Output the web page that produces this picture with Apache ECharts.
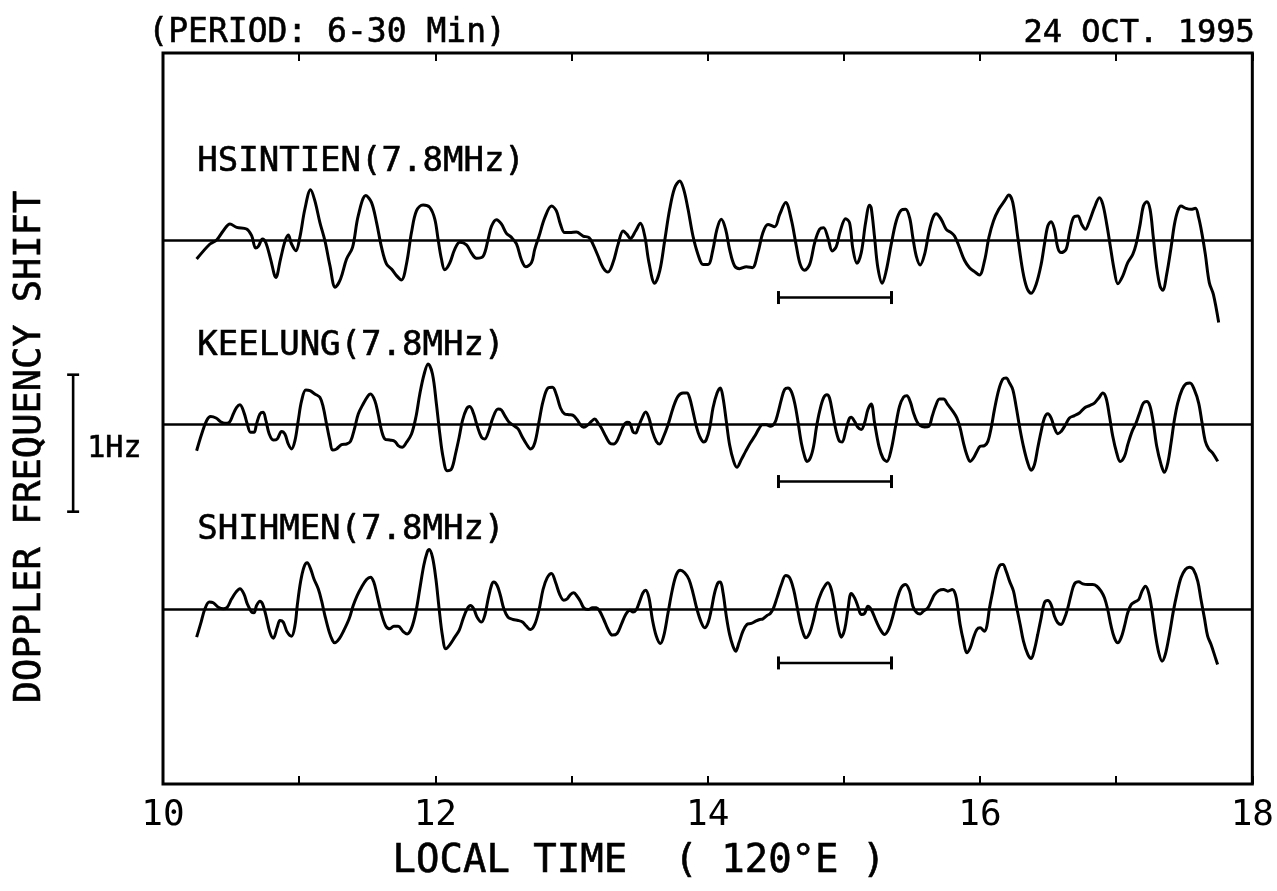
<!DOCTYPE html>
<html><head><meta charset="utf-8">
<script src="https://cdn.jsdelivr.net/npm/echarts@6/dist/echarts.min.js"></script>
<style>html,body{margin:0;padding:0;background:#fff}#c{width:1277px;height:891px}</style>
</head><body><div id="c"></div>
<script>
// ---------------- data ----------------
const xTickLabels = [10, 12, 14, 16, 18];          // local time (h), labelled ticks
const stationNames = ['HSINTIEN(7.8MHz)', 'KEELUNG(7.8MHz)', 'SHIHMEN(7.8MHz)'];
// [local time (h), Doppler frequency shift (Hz)]
const hsintien = [
[10.247,-0.139],[10.345,-0.029],[10.394,0],[10.443,0.068],[10.492,0.117],[10.541,0.092],[10.614,0.080],[10.651,0.032],[10.680,-0.058],[10.700,-0.046],[10.731,0.007],[10.756,-0.022],[10.790,-0.139],[10.829,-0.273],[10.863,-0.139],[10.895,-0.012],[10.920,0.036],[10.944,-0.029],[10.976,-0.078],[11.005,0.019],[11.042,0.226],[11.084,0.367],[11.115,0.287],[11.152,0.129],[11.189,-0.005],[11.226,-0.187],[11.265,-0.345],[11.304,-0.285],[11.348,-0.139],[11.392,-0.054],[11.434,0.178],[11.490,0.324],[11.531,0.275],[11.568,0.129],[11.605,-0.054],[11.641,-0.175],[11.678,-0.212],[11.715,-0.260],[11.751,-0.292],[11.788,-0.175],[11.825,0.056],[11.862,0.214],[11.910,0.255],[11.959,0.238],[11.996,0.153],[12.020,0.007],[12.045,-0.139],[12.069,-0.217],[12.106,-0.168],[12.143,-0.066],[12.180,-0.017],[12.229,-0.036],[12.265,-0.095],[12.302,-0.134],[12.351,-0.119],[12.388,0.007],[12.412,0.100],[12.449,0.148],[12.485,0.117],[12.522,0.049],[12.559,0.019],[12.596,-0.029],[12.632,-0.144],[12.664,-0.195],
[12.706,-0.165],[12.730,-0.068],[12.762,0.029],[12.804,0.163],[12.853,0.248],[12.889,0.212],[12.919,0.114],[12.950,0.054],[12.987,0.054],[13.036,0.058],[13.085,0.029],[13.129,0.017],[13.158,-0.032],[13.195,-0.117],[13.232,-0.202],[13.268,-0.234],[13.305,-0.165],[13.342,-0.032],[13.379,0.066],[13.408,0.041],[13.432,0.010],[13.471,0.066],[13.506,0.122],[13.538,0.029],[13.569,-0.165],[13.611,-0.316],[13.648,-0.226],[13.684,-0.007],[13.721,0.224],[13.758,0.382],[13.795,0.431],[13.824,0.370],[13.856,0.224],[13.892,0.029],[13.929,-0.105],[13.966,-0.178],[14.003,-0.178],[14.039,-0.068],[14.068,0.078],[14.100,0.151],[14.132,0.078],[14.161,-0.068],[14.198,-0.190],[14.235,-0.209],[14.284,-0.195],[14.328,-0.202],[14.369,-0.092],[14.406,0.054],[14.443,0.114],[14.492,0.097],[14.529,0.187],[14.573,0.273],[14.614,0.151],[14.651,-0.044],[14.680,-0.178],[14.712,-0.221],[14.749,-0.178],[14.786,-0.019],[14.822,0.078],[14.851,0.090],[14.883,0.017],[14.915,-0.080],[14.944,-0.049],[14.974,0.066],[15.013,0.156],[15.042,0.126],[15.067,-0.068],[15.096,-0.170],[15.128,-0.092],[15.160,0.127],[15.189,0.253],
[15.201,0.236],[15.226,0.017],[15.250,-0.202],[15.282,-0.316],[15.311,-0.226],[15.348,-0.032],[15.385,0.139],[15.421,0.217],[15.453,0.224],[15.483,0.163],[15.507,0.017],[15.532,-0.117],[15.561,-0.182],[15.593,-0.105],[15.624,0.054],[15.654,0.163],[15.678,0.192],[15.715,0.151],[15.752,0.078],[15.788,0.054],[15.813,0.029],[15.845,-0.044],[15.886,-0.148],[15.923,-0.202],[15.960,-0.231],[15.996,-0.255],[16.033,-0.153],[16.065,0.017],[16.099,0.139],[16.138,0.224],[16.180,0.285],[16.212,0.328],[16.241,0.273],[16.278,0.017],[16.314,-0.226],[16.344,-0.348],[16.376,-0.389],[16.412,-0.324],[16.449,-0.178],[16.473,-0.032],[16.498,0.102],[16.522,0.134],[16.547,0.078],[16.571,-0.056],[16.596,-0.092],[16.632,-0.068],[16.657,0.054],[16.686,0.163],[16.718,0.175],[16.747,0.114],[16.774,0.078],[16.804,0.139],[16.840,0.236],[16.877,0.309],[16.902,0.260],[16.931,0.114],[16.955,-0.032],[16.987,-0.226],[17.012,-0.319],[17.048,-0.263],[17.085,-0.165],[17.122,-0.105],[17.146,-0.032],[17.176,0.114],[17.200,0.248],[17.225,0.280],[17.249,0.224],[17.273,0.017],[17.298,-0.202],[17.322,-0.336],[17.342,-0.367],[17.371,-0.251],[17.403,-0.056],[17.428,0.114],[17.452,0.212],[17.476,0.248],[17.513,0.231],[17.550,0.224],[17.582,0.231],[17.606,0.163],[17.631,0.041],[17.655,-0.105],[17.684,-0.311],[17.714,-0.397],[17.753,-0.603]
];
const keelung = [
[10.247,-0.195],[10.284,-0.073],[10.320,0.024],[10.350,0.054],[10.389,0.044],[10.423,0.017],[10.455,0.005],[10.487,0.012],[10.516,0.073],[10.541,0.122],[10.565,0.141],[10.594,0.085],[10.619,0],[10.643,-0.061],[10.668,-0.061],[10.687,0],[10.712,0.073],[10.736,0.085],[10.756,0.024],[10.780,-0.073],[10.810,-0.117],[10.839,-0.109],[10.871,-0.054],[10.895,-0.073],[10.920,-0.146],[10.944,-0.182],[10.969,-0.122],[10.993,0.024],[11.018,0.170],[11.049,0.248],[11.079,0.243],[11.115,0.219],[11.152,0.195],[11.177,0.122],[11.201,0],[11.226,-0.122],[11.245,-0.190],[11.274,-0.182],[11.311,-0.151],[11.348,-0.146],[11.377,-0.127],[11.409,-0.024],[11.434,0.073],[11.470,0.146],[11.507,0.207],[11.524,0.219],[11.556,0.170],[11.580,0.073],[11.605,-0.049],[11.629,-0.109],[11.666,-0.117],[11.703,-0.127],[11.727,-0.158],[11.756,-0.170],[11.788,-0.134],[11.825,-0.073],[11.857,0.049],[11.886,0.219],[11.918,0.365],[11.947,0.438],[11.979,0.365],[12.008,0.146],[12.033,-0.073],[12.057,-0.243],[12.087,-0.341],[12.119,-0.328],[12.148,-0.219],[12.175,-0.097],[12.199,0.024],[12.229,0.109],[12.253,0.127],[12.282,0.073],[12.307,-0.012],[12.339,-0.097],[12.363,-0.109],[12.393,-0.049],[12.424,0.049],[12.461,0.109],[12.485,0.102],[12.510,0.061],[12.542,0.012],[12.576,-0.012],[12.608,-0.036],[12.640,-0.097],[12.669,-0.146],[12.699,-0.182],
[12.730,-0.139],[12.762,0.019],[12.791,0.165],[12.828,0.263],[12.860,0.268],[12.889,0.214],[12.919,0.117],[12.950,0.073],[12.982,0.068],[13.012,0.063],[13.041,0.032],[13.065,-0.005],[13.090,-0.024],[13.122,-0.005],[13.146,0.019],[13.171,0.036],[13.195,0.007],[13.220,-0.029],[13.251,-0.090],[13.281,-0.139],[13.310,-0.146],[13.335,-0.122],[13.359,-0.066],[13.384,-0.010],[13.408,0.012],[13.428,0.007],[13.452,-0.058],[13.472,-0.066],[13.489,-0.029],[13.513,0.032],[13.545,0.088],[13.569,0.044],[13.594,-0.054],[13.623,-0.127],[13.648,-0.146],[13.672,-0.102],[13.709,-0.005],[13.746,0.117],[13.782,0.202],[13.819,0.226],[13.848,0.226],[13.868,0.190],[13.892,0.092],[13.917,-0.017],[13.941,-0.090],[13.971,-0.131],[13.990,-0.114],[14.015,-0.029],[14.039,0.117],[14.069,0.226],[14.093,0.263],[14.113,0.190],[14.137,0.019],[14.161,-0.151],[14.191,-0.273],[14.215,-0.316],[14.247,-0.260],[14.279,-0.200],[14.313,-0.139],[14.345,-0.090],[14.377,-0.034],[14.401,-0.005],[14.431,-0.005],[14.460,-0.017],[14.492,0.007],[14.516,0.080],[14.541,0.178],[14.565,0.251],[14.590,0.263],[14.614,0.238],[14.639,0.153],[14.663,0.019],[14.688,-0.139],[14.712,-0.236],[14.729,-0.273],[14.754,-0.248],[14.778,-0.163],[14.798,-0.029],[14.822,0.092],[14.851,0.190],[14.876,0.214],[14.895,0.190],[14.920,0.068],[14.944,-0.054],[14.969,-0.127],[14.988,-0.131],[15.013,-0.054],[15.037,0.032],[15.054,0.049],[15.079,0.019],[15.103,-0.024],[15.128,-0.041],[15.152,0.007],[15.177,0.105],[15.201,0.146],
[15.226,0.007],[15.258,-0.163],[15.287,-0.248],[15.316,-0.273],[15.348,-0.187],[15.380,-0.017],[15.409,0.129],[15.439,0.197],[15.463,0.207],[15.487,0.165],[15.512,0.080],[15.536,0.019],[15.561,-0.012],[15.593,-0.022],[15.624,-0.017],[15.649,0.056],[15.673,0.129],[15.703,0.182],[15.732,0.182],[15.764,0.141],[15.801,0.092],[15.830,0.044],[15.854,-0.029],[15.879,-0.139],[15.903,-0.224],[15.928,-0.273],[15.952,-0.248],[15.977,-0.200],[16.001,-0.163],[16.033,-0.158],[16.058,-0.127],[16.082,-0.029],[16.106,0.105],[16.138,0.251],[16.168,0.328],[16.192,0.336],[16.217,0.299],[16.241,0.251],[16.265,0.129],[16.290,-0.017],[16.319,-0.163],[16.351,-0.285],[16.376,-0.338],[16.400,-0.297],[16.424,-0.175],[16.449,-0.054],[16.473,0.044],[16.498,0.075],[16.522,0.044],[16.547,-0.029],[16.571,-0.071],[16.596,-0.054],[16.628,-0.005],[16.657,0.044],[16.694,0.061],[16.730,0.080],[16.767,0.117],[16.804,0.134],[16.840,0.153],[16.872,0.190],[16.902,0.226],[16.926,0.190],[16.951,0.056],[16.975,-0.090],[17.004,-0.212],[17.029,-0.273],[17.061,-0.236],[17.085,-0.151],[17.117,-0.054],[17.146,0.007],[17.176,0.092],[17.200,0.153],[17.225,0.165],[17.249,0.129],[17.273,0.007],[17.298,-0.163],[17.330,-0.297],[17.354,-0.353],[17.379,-0.285],[17.403,-0.139],[17.428,0.032],[17.452,0.153],[17.484,0.251],[17.513,0.294],[17.542,0.299],[17.574,0.251],[17.606,0.153],[17.631,0.007],[17.655,-0.127],[17.680,-0.182],[17.709,-0.212],[17.746,-0.273]
];
const shihmen = [
[10.247,-0.202],[10.276,-0.105],[10.308,0.005],[10.340,0.054],[10.369,0.049],[10.406,0.017],[10.443,0.005],[10.472,0.017],[10.504,0.078],[10.536,0.127],[10.565,0.151],[10.594,0.114],[10.619,0.041],[10.651,-0.019],[10.668,-0.024],[10.687,0.029],[10.712,0.061],[10.731,0.041],[10.756,-0.044],[10.785,-0.165],[10.810,-0.209],[10.839,-0.129],[10.859,-0.080],[10.883,-0.092],[10.912,-0.165],[10.944,-0.195],[10.969,-0.117],[10.986,0.029],[11.010,0.200],[11.035,0.309],[11.059,0.341],[11.084,0.297],[11.108,0.224],[11.140,0.151],[11.164,0.066],[11.189,-0.044],[11.221,-0.165],[11.245,-0.226],[11.262,-0.243],[11.294,-0.214],[11.328,-0.153],[11.367,-0.068],[11.397,0.029],[11.426,0.102],[11.458,0.163],[11.495,0.219],[11.524,0.236],[11.548,0.200],[11.573,0.102],[11.605,-0.032],[11.637,-0.122],[11.666,-0.141],[11.695,-0.122],[11.727,-0.122],[11.764,-0.161],[11.793,-0.178],[11.825,-0.136],[11.857,-0.019],[11.886,0.151],[11.915,0.321],[11.940,0.418],[11.955,0.438],[11.979,0.382],[12.004,0.224],[12.028,0.005],[12.052,-0.190],[12.077,-0.287],[12.106,-0.258],[12.143,-0.202],[12.175,-0.153],[12.204,-0.068],[12.234,0.005],[12.258,0.029],[12.282,0.005],[12.307,-0.056],[12.339,-0.092],[12.363,-0.044],[12.388,0.078],[12.412,0.175],[12.429,0.200],[12.454,0.175],[12.478,0.102],[12.503,0.005],[12.534,-0.056],[12.571,-0.073],[12.608,-0.080],[12.640,-0.092],[12.669,-0.122],[12.698,-0.146],
[12.730,-0.109],[12.762,0],[12.791,0.146],[12.821,0.231],[12.853,0.263],[12.884,0.195],[12.914,0.109],[12.943,0.068],[12.968,0.078],[12.992,0.109],[13.017,0.122],[13.041,0.097],[13.065,0.061],[13.090,0.012],[13.122,0],[13.154,0.012],[13.183,0.012],[13.207,-0.012],[13.237,-0.073],[13.269,-0.146],[13.300,-0.187],[13.335,-0.175],[13.366,-0.109],[13.398,-0.036],[13.428,-0.005],[13.452,-0.019],[13.477,0],[13.501,0.061],[13.525,0.122],[13.545,0.141],[13.569,0.085],[13.594,-0.073],[13.623,-0.195],[13.653,-0.248],[13.677,-0.195],[13.709,-0.024],[13.741,0.146],[13.770,0.255],[13.799,0.287],[13.831,0.268],[13.863,0.219],[13.892,0.122],[13.922,0],[13.954,-0.097],[13.978,-0.134],[14.003,-0.097],[14.027,0],[14.051,0.122],[14.076,0.195],[14.093,0.200],[14.113,0.122],[14.137,-0.049],[14.161,-0.182],[14.186,-0.268],[14.206,-0.304],[14.230,-0.243],[14.259,-0.158],[14.289,-0.109],[14.320,-0.102],[14.352,-0.085],[14.382,-0.073],[14.406,-0.068],[14.436,-0.044],[14.460,-0.029],[14.484,0.012],[14.509,0.085],[14.541,0.182],[14.573,0.248],[14.602,0.231],[14.631,0.146],[14.656,0.024],[14.680,-0.097],[14.705,-0.182],[14.719,-0.207],[14.749,-0.170],[14.778,-0.073],[14.803,0.036],[14.834,0.122],[14.859,0.170],[14.883,0.195],[14.908,0.146],[14.932,0.024],[14.957,-0.122],[14.981,-0.202],[15.006,-0.146],[15.030,0],[15.054,0.117],[15.079,0.085],[15.103,0.024],[15.128,-0.036],[15.152,-0.029],[15.177,0.024],
[15.201,0],[15.238,-0.085],[15.275,-0.158],[15.299,-0.182],[15.331,-0.139],[15.360,-0.049],[15.390,0.073],[15.421,0.158],[15.453,0.182],[15.483,0.134],[15.507,0.024],[15.536,-0.024],[15.561,-0.032],[15.585,-0.012],[15.617,0.012],[15.642,0.061],[15.666,0.109],[15.698,0.139],[15.732,0.146],[15.764,0.134],[15.796,0.146],[15.820,0.109],[15.837,0.012],[15.854,-0.109],[15.879,-0.231],[15.903,-0.316],[15.928,-0.280],[15.952,-0.207],[15.977,-0.146],[16.001,-0.134],[16.033,-0.158],[16.050,-0.122],[16.070,0.012],[16.094,0.134],[16.119,0.255],[16.148,0.324],[16.168,0.328],[16.192,0.280],[16.217,0.207],[16.246,0.134],[16.265,0.036],[16.295,-0.109],[16.319,-0.231],[16.351,-0.328],[16.376,-0.358],[16.400,-0.292],[16.424,-0.182],[16.449,-0.061],[16.473,0.049],[16.498,0.066],[16.522,0.036],[16.547,-0.049],[16.571,-0.097],[16.596,-0.109],[16.620,-0.066],[16.645,0.012],[16.669,0.109],[16.694,0.187],[16.725,0.202],[16.755,0.187],[16.791,0.182],[16.828,0.182],[16.858,0.170],[16.889,0.134],[16.914,0.085],[16.938,0],[16.963,-0.122],[16.987,-0.207],[17.012,-0.243],[17.036,-0.207],[17.061,-0.122],[17.085,-0.024],[17.110,0.036],[17.139,0.056],[17.166,0.073],[17.190,0.134],[17.215,0.170],[17.239,0.122],[17.264,-0.012],[17.288,-0.182],[17.313,-0.316],[17.337,-0.377],[17.361,-0.328],[17.391,-0.182],[17.420,-0.012],[17.445,0.109],[17.476,0.231],[17.508,0.292],[17.538,0.309],[17.567,0.292],[17.599,0.207],[17.623,0.073],[17.648,-0.061],[17.672,-0.195],[17.697,-0.255],[17.733,-0.365],[17.745,-0.401]
];
const periodBar = [14.52, 15.35];   // time span marked under each trace (h)
const scaleBarHz = [0.36, -0.64];   // 1 Hz reference bar (Hz)

// ---------------- layout ----------------
const FONT = '"DejaVu Sans Mono", monospace';
const G = { left: 163, top: 53, width: 1090, height: 731 };
const PX_PER_HZ = 137;
const baselinesPx = [240, 424, 609.5];
const barOffsetHz = [-0.42, -0.42, -0.39];
const scaleBarTime = 9.34;

const yAxes = baselinesPx.map(b => ({
  type: 'value', show: false, gridIndex: 0,
  max: (b - G.top) / PX_PER_HZ,
  min: -(G.top + G.height - b) / PX_PER_HZ
}));

const traces = [hsintien, keelung, shihmen];
const series = [];
traces.forEach((d, i) => {
  series.push({
    type: 'line', xAxisIndex: 0, yAxisIndex: i, data: d,
    showSymbol: false, smooth: 0.35, silent: true,
    lineStyle: { color: '#000', width: 3 },
    markLine: {
      silent: true, symbol: ['none', 'none'], label: { show: false },
      lineStyle: { color: '#000', width: 2.6, type: 'solid' },
      data: [{ yAxis: 0 }]
    }
  });
  series.push({
    type: 'line', xAxisIndex: 0, yAxisIndex: i,
    data: [[periodBar[0], barOffsetHz[i]], [periodBar[1], barOffsetHz[i]]],
    symbol: 'rect', symbolSize: [3, 13], showSymbol: true, silent: true,
    itemStyle: { color: '#000' }, lineStyle: { color: '#000', width: 2.4 }
  });
});

const xCommon = {
  type: 'value', min: 10, max: 18, interval: 1, gridIndex: 0,
  axisLine: { show: false, onZero: false }, splitLine: { show: false },
  axisTick: { show: true, inside: true, length: 8, lineStyle: { color: '#000', width: 2 } }
};

const W = '500 ';
const option = {
  animation: false,
  backgroundColor: '#fff',
  grid: { left: G.left, top: G.top, width: G.width, height: G.height,
          show: true, borderColor: '#000', borderWidth: 3, backgroundColor: 'transparent' },
  xAxis: [
    Object.assign({}, xCommon, {
      position: 'bottom',
      axisLabel: { show: true, margin: 14, color: '#000', fontFamily: FONT, fontSize: 36,
        formatter: v => xTickLabels.includes(v) ? String(v) : '' }
    }),
    Object.assign({}, xCommon, { position: 'top', axisLabel: { show: false } })
  ],
  yAxis: yAxes,
  series: series,
  graphic: [
    { id: 't1', type: 'text', left: 148, top: 17, style: { text: '(PERIOD: 6-30 Min)', font: W + '33px ' + FONT, fill: '#000', stroke: '#000', lineWidth: 0.6 } },
    { id: 't2', type: 'text', right: 22, top: 17, style: { text: '24 OCT. 1995', font: W + '32px ' + FONT, fill: '#000', stroke: '#000', lineWidth: 0.6 } },
    { id: 's1', type: 'text', left: 197, top: 145, style: { text: stationNames[0], font: W + '34px ' + FONT, fill: '#000', stroke: '#000', lineWidth: 0.6 } },
    { id: 's2', type: 'text', left: 197, top: 329, style: { text: stationNames[1], font: W + '34px ' + FONT, fill: '#000', stroke: '#000', lineWidth: 0.6 } },
    { id: 's3', type: 'text', left: 197, top: 513, style: { text: stationNames[2], font: W + '34px ' + FONT, fill: '#000', stroke: '#000', lineWidth: 0.6 } },
    { id: 'hz', type: 'text', left: 87, top: 434, style: { text: '1Hz', font: W + '30px ' + FONT, fill: '#000', stroke: '#000', lineWidth: 0.6 } },
    { id: 'xn', type: 'text', x: 639, y: 862, style: { text: 'LOCAL TIME  ( 120°E )', font: W + '39px ' + FONT, fill: '#000', stroke: '#000', lineWidth: 0.6, align: 'center', verticalAlign: 'middle' } },
    { id: 'yn', type: 'text', x: 30, y: 447, rotation: Math.PI / 2, style: { text: 'DOPPLER FREQUENCY SHIFT', font: W + '37px ' + FONT, fill: '#000', stroke: '#000', lineWidth: 0.6, align: 'center', verticalAlign: 'middle' } }
  ]
};

const chart = echarts.init(document.getElementById('c'), null, { renderer: 'canvas' });
chart.setOption(option);

// 1 Hz reference bar, placed through KEELUNG's y scale
const sx = chart.convertToPixel({ xAxisIndex: 0 }, scaleBarTime);
const sy0 = chart.convertToPixel({ yAxisIndex: 1 }, scaleBarHz[0]);
const sy1 = chart.convertToPixel({ yAxisIndex: 1 }, scaleBarHz[1]);
const st = { stroke: '#000', lineWidth: 2.6 };
chart.setOption({ graphic: [
  { id: 'sb', type: 'line', shape: { x1: sx, y1: sy0, x2: sx, y2: sy1 }, style: st },
  { id: 'sbt', type: 'line', shape: { x1: sx - 6, y1: sy0, x2: sx + 6, y2: sy0 }, style: st },
  { id: 'sbb', type: 'line', shape: { x1: sx - 6, y1: sy1, x2: sx + 6, y2: sy1 }, style: st }
] });
</script>
</body></html>
